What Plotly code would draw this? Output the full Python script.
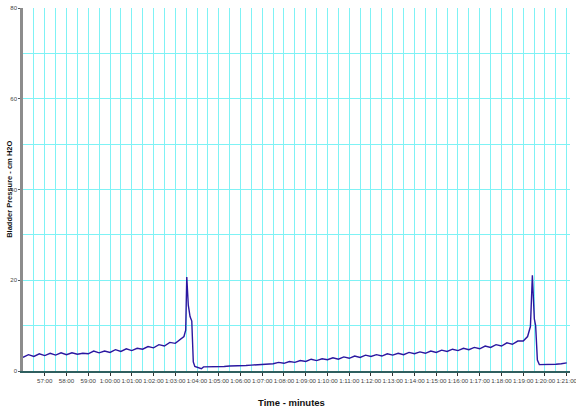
import plotly.graph_objects as go

# Time in minutes (56.0 = 56:00, 60.0 = 1:00:00)
time_min = [
    56.00, 56.25, 56.50, 56.75, 57.00, 57.25, 57.50, 57.75, 58.00, 58.25,
    58.50, 58.75, 59.00, 59.25, 59.50, 59.75, 60.00, 60.25, 60.50, 60.75,
    61.00, 61.25, 61.50, 61.75, 62.00, 62.25, 62.50, 62.75, 63.00, 63.25,
    63.40, 63.48, 63.53, 63.60, 63.68, 63.76, 63.83, 63.90, 64.00, 64.20,
    64.30, 64.50, 64.75, 65.00, 65.25, 65.50, 65.75, 66.00, 66.25, 66.50,
    66.75, 67.00, 67.25, 67.50, 67.75, 68.00, 68.25, 68.50, 68.75, 69.00,
    69.25, 69.50, 69.75, 70.00, 70.25, 70.50, 70.75, 71.00, 71.25, 71.50,
    71.75, 72.00, 72.25, 72.50, 72.75, 73.00, 73.25, 73.50, 73.75, 74.00,
    74.25, 74.50, 74.75, 75.00, 75.25, 75.50, 75.75, 76.00, 76.25, 76.50,
    76.75, 77.00, 77.25, 77.50, 77.75, 78.00, 78.25, 78.50, 78.75, 79.00,
    79.20, 79.33, 79.42, 79.51, 79.57, 79.65, 79.74, 80.00, 80.25, 80.50,
    80.75, 81.00,
]
pressure = [
    3.0, 3.6, 3.2, 3.8, 3.4, 3.9, 3.5, 4.0, 3.6, 4.0,
    3.7, 3.9, 3.8, 4.4, 4.0, 4.4, 4.1, 4.7, 4.3, 4.9,
    4.5, 5.0, 4.8, 5.4, 5.1, 5.8, 5.5, 6.3, 6.1, 7.0,
    7.6, 9.0, 20.7, 14.5, 12.0, 11.0, 2.0, 1.0, 0.8, 0.5,
    0.9, 0.9, 0.9, 1.0, 1.0, 1.1, 1.1, 1.2, 1.2, 1.3,
    1.4, 1.5, 1.5, 1.6, 1.9, 1.7, 2.1, 1.9, 2.3, 2.1,
    2.6, 2.3, 2.7, 2.5, 2.9, 2.6, 3.1, 2.8, 3.3, 3.0,
    3.5, 3.2, 3.6, 3.3, 3.8, 3.5, 3.9, 3.6, 4.1, 3.8,
    4.2, 3.9, 4.4, 4.1, 4.6, 4.3, 4.8, 4.5, 5.0, 4.7,
    5.2, 4.9, 5.5, 5.2, 5.8, 5.5, 6.2, 5.9, 6.6, 6.6,
    7.6, 9.8, 21.1, 11.5, 10.0, 2.4, 1.4, 1.4, 1.4, 1.5,
    1.6, 1.8,
]

x_tick_vals = list(range(57, 82))
x_tick_text = ["57:00", "58:00", "59:00", "1:00:00", "1:01:00", "1:02:00",
               "1:03:00", "1:04:00", "1:05:00", "1:06:00", "1:07:00", "1:08:00",
               "1:09:00", "1:10:00", "1:11:00", "1:12:00", "1:13:00", "1:14:00",
               "1:15:00", "1:16:00", "1:17:00", "1:18:00", "1:19:00", "1:20:00",
               "1:21:00"]
y_tick_vals = [0, 20, 40, 60, 80]

grid_color = "#7ff2f5"
font_family = "Liberation Sans, Arial, sans-serif"

fig = go.Figure()
fig.add_trace(go.Scatter(
    x=time_min, y=pressure, mode="lines",
    line=dict(color="#2a17a0", width=1.4),
    showlegend=False,
))

fig.update_layout(
    width=576, height=413,
    margin=dict(l=23, r=6, t=8, b=42),
    paper_bgcolor="white", plot_bgcolor="white",
    font=dict(family=font_family, size=6, color="#444444"),
    xaxis=dict(
        range=[56, 81.15], automargin=False,
        tickmode="array", tickvals=x_tick_vals, ticktext=x_tick_text,
        tickangle=0, ticklabeloverflow="allow",
        tickfont=dict(size=6.2, color="#444444"),
        ticks="outside", ticklen=3, tickcolor="#333333", tickwidth=1,
        showgrid=True, gridcolor=grid_color, gridwidth=1,
        minor=dict(tickmode="linear", tick0=56, dtick=0.5, showgrid=True,
                   gridcolor=grid_color, gridwidth=1, ticks=""),
        showline=True, linecolor="#2f5f5f", linewidth=1.5,
        zeroline=False,
    ),
    yaxis=dict(
        range=[0, 80], automargin=False,
        tickmode="array", tickvals=y_tick_vals,
        ticklabeloverflow="allow",
        tickfont=dict(size=6, color="#444444"),
        ticks="outside", ticklen=2, tickcolor="#555555",
        showgrid=True, gridcolor=grid_color, gridwidth=1,
        minor=dict(tickmode="linear", tick0=0, dtick=10, showgrid=True,
                   gridcolor=grid_color, gridwidth=1, ticks=""),
        showline=True, linecolor="#8c8c8c", linewidth=2.5,
        zeroline=False,
    ),
    annotations=[
        dict(text="<b>Time - minutes</b>", xref="paper", yref="paper",
             x=0.49, y=-0.088, xanchor="center", yanchor="middle",
             showarrow=False, font=dict(size=9.5, color="#111111", family=font_family)),
        dict(text="<b>Bladder Pressure - cm H2O</b>", xref="paper", yref="paper",
             x=-0.025, y=0.5, xanchor="center", yanchor="middle", textangle=-90,
             showarrow=False, font=dict(size=7.5, color="#111111", family=font_family)),
    ],
)

fig.write_html("out.html", config={"displayModeBar": False},
               post_script="document.body.style.margin='0px';")
